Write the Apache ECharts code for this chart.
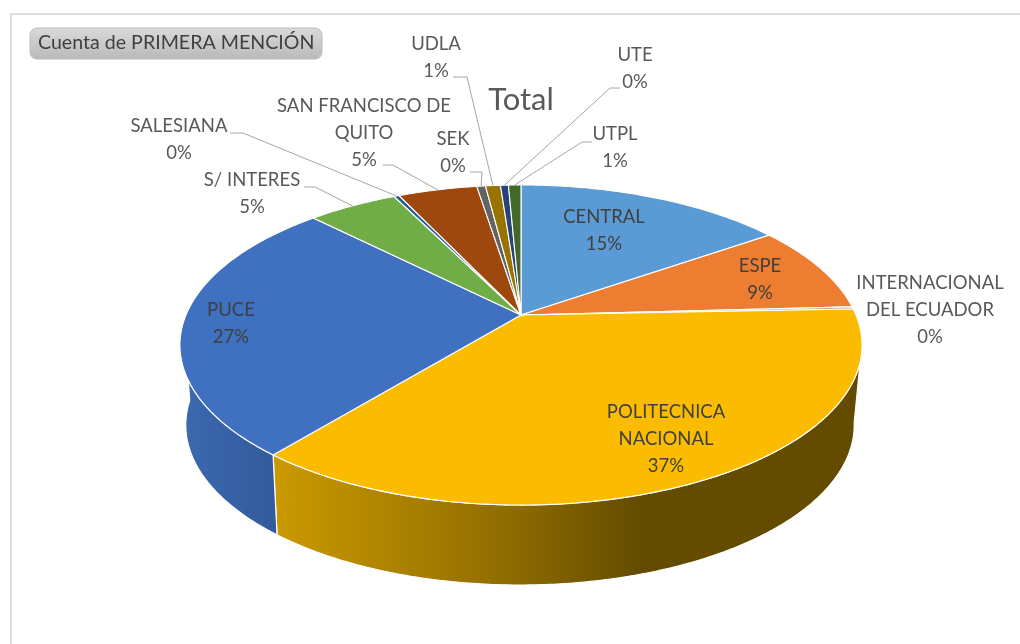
<!DOCTYPE html>
<html><head><meta charset="utf-8">
<style>html,body{margin:0;padding:0;background:#fff}#c{width:1020px;height:644px}</style>
<script src="https://cdn.jsdelivr.net/npm/echarts@6/dist/echarts.min.js"></script>
</head><body><div id="c"></div>
<script>
const categories = ['CENTRAL','ESPE','INTERNACIONAL DEL ECUADOR','POLITECNICA NACIONAL','PUCE','S/ INTERES','SALESIANA','SAN FRANCISCO DE QUITO','SEK','UDLA','UTE','UTPL'];
const shares = [15.3, 8.85, 0.23, 36.52, 26.7, 5.1, 0.3, 4.5, 0.49, 0.85, 0.45, 0.71];
const topColors = ['#5B9BD5','#ED7D31','#A5A5A5','#FBBC00','#4070C0','#70AD47','#255E91','#9E480E','#636363','#997300','#264478','#43682B'];
const wallStops = {
  3: [[273,'#CB9A00'],[510,'#8F6C00'],[640,'#634C00'],[860,'#634C00']],
  4: [[180,'#3C69B0'],[278,'#335A9C']]
};
const labelLines = [['CENTRAL'],['ESPE'],['INTERNACIONAL','DEL ECUADOR'],['POLITECNICA','NACIONAL'],['PUCE'],['S/ INTERES'],['SALESIANA'],['SAN FRANCISCO DE','QUITO'],['SEK'],['UDLA'],['UTE'],['UTPL']];
// label layout: centre x, first line y
const labelPos = [[604,217],[760,266],[930,283],[666,412],[231,310],[252,180],[179,126],[364,106],[453,139],[436,44],[635,55],[615,134]];
const innerLabel = [1,1,0,1,1,0,0,0,0,0,0,0];
// leader layout: label-side start, knee
const leaders = {5:[[304,187],[315,187]],6:[[230,133],[243,133]],7:[[383,165],[393,165]],8:[[470,172],[482,172]],9:[[453,77],[467,77]],10:[[620,88],[610,88]],11:[[592,142],[582,142]]};

// perspective disc
const CX=521, CY=315, A=335, B=154.4, K=0.1875;
function proj(theta){ const u=Math.sin(theta), v=-Math.cos(theta), w=1-K*v; return [A*u/w, B*v/w]; }
function topPt(theta){ const p=proj(theta); return [CX+p[0], CY+p[1]]; }
function botPt(theta){ const p=proj(theta); return [CX-1+0.98*p[0], CY+p[1]+80]; }
const total = shares.reduce((a,b)=>a+b,0);
function range(i){ let s=0; for(let j=0;j<i;j++) s+=shares[j]; return [s/total*2*Math.PI,(s+shares[i])/total*2*Math.PI]; }
function arc(fn,a,b){ const n=Math.max(2,Math.ceil(Math.abs(b-a)/0.01)); const o=[]; for(let i=0;i<=n;i++) o.push(fn(a+(b-a)*i/n)); return o; }
const WALL_A=100*Math.PI/180, WALL_B=268*Math.PI/180;
const data = categories.map((n,i)=>({name:n,value:shares[i]}));

function renderWall(params){
  const i=params.dataIndex, r=range(i);
  const a=Math.max(r[0],WALL_A), b=Math.min(r[1],WALL_B);
  if(b<=a||!wallStops[i]) return {type:'group',children:[]};
  const st=wallStops[i], x0=st[0][0], x1=st[st.length-1][0];
  return {type:'polygon',shape:{points:arc(topPt,a,b).concat(arc(botPt,b,a))},
    style:{fill:new echarts.graphic.LinearGradient(x0,0,x1,0,st.map(s=>({offset:(s[0]-x0)/(x1-x0),color:s[1]})),true),stroke:'#fff',lineWidth:1.2}};
}
function renderTop(params){
  const i=params.dataIndex, r=range(i);
  return {type:'polygon',shape:{points:[[CX,CY]].concat(arc(topPt,r[0],r[1]))},
    style:{fill:topColors[i],stroke:'#fff',lineWidth:1.1}};
}
function renderLabel(params){
  const i=params.dataIndex, r=range(i), ch=[];
  const lines=labelLines[i].concat([Math.round(shares[i]/total*100)+'%']);
  lines.forEach((t,k)=>ch.push({type:'text',style:{text:t,x:labelPos[i][0],y:labelPos[i][1]+27*k,textAlign:'center',textVerticalAlign:'middle',
    fill:innerLabel[i]?'#404040':'#595959',font:'18.5px Lato'}}));
  if(leaders[i]){
    const end=topPt((r[0]+r[1])/2);
    ch.push({type:'polyline',shape:{points:leaders[i].concat([end])},style:{fill:'none',stroke:'#A6A6A6',lineWidth:1}});
  }
  return {type:'group',children:ch};
}
const chart=echarts.init(document.getElementById('c'),null,{renderer:'canvas'});
chart.setOption({
  animation:false,backgroundColor:'#fff',
  title:{text:'Total',left:516,top:79,textAlign:'center',textStyle:{fontFamily:'Lato',fontSize:31,fontWeight:'normal',color:'#595959'}},
  graphic:[
    {type:'polyline',z:0,shape:{points:[[11,644],[11,14],[1020,14]]},style:{fill:'none',stroke:'#DDDDDD',lineWidth:2}},
    {type:'rect',z:5,shape:{x:30,y:28,width:292,height:31,r:7},style:{fill:new echarts.graphic.LinearGradient(0,0,0,1,[{offset:0,color:'#DADADA'},{offset:1,color:'#B9B9B9'}]),stroke:'#BDBDBD',lineWidth:1}},
    {type:'text',z:6,style:{text:'Cuenta de PRIMERA MENCIÓN',x:38,y:43,textVerticalAlign:'middle',fill:'#404040',font:'19.6px Lato'}}
  ],
  series:[
    {type:'custom',coordinateSystem:'none',renderItem:renderWall,data:data,z:2,silent:true},
    {type:'custom',coordinateSystem:'none',renderItem:renderTop,data:data,z:3,silent:true},
    {type:'custom',coordinateSystem:'none',renderItem:renderLabel,data:data,z:4,silent:true}
  ]
});
</script></body></html>
